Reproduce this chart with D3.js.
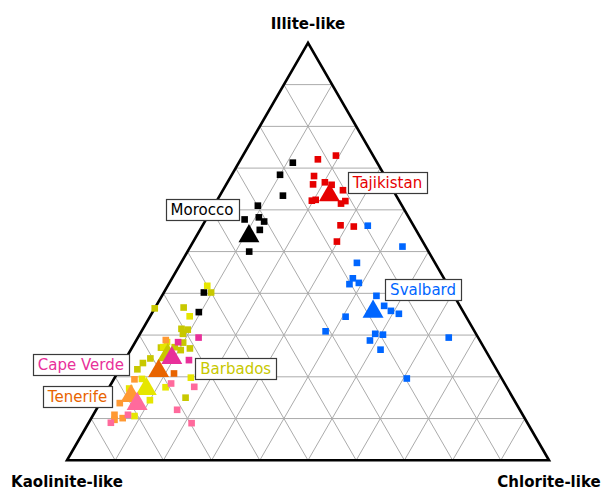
<!DOCTYPE html>
<html>
<head>
<meta charset="utf-8">
<script src="https://cdn.jsdelivr.net/npm/d3@7"></script>
<style>
  html, body { margin: 0; padding: 0; background: #fff; }
  svg { display: block; }
</style>
</head>
<body>
<svg id="chart" width="601" height="490"></svg>
<script>
// Clay mineral composition, % of [illite, kaolinite, chlorite]
const axisTitles = ["Illite-like", "Kaolinite-like", "Chlorite-like"];
const gridSteps = [10, 20, 30, 40, 50, 60, 70, 80, 90];

const groupNames  = ["Morocco", "Tajikistan", "Svalbard", "Barbados", "Cape Verde", "Tenerife", "Sample A", "Sample B", "Sample C"];
const groupColors = ["#000000", "#e60000", "#0066ff", "#c8c800", "#e8309a", "#e86400", "#e6e600", "#ff9933", "#ff6a9c"];
const groupLabeled = [true, true, true, true, true, true, false, false, false];

const moroccoSamples = [
  [71.3, 17.5, 11.2], [68.4, 21.6, 10.0], [63.4, 23.5, 13.1], [61.0, 29.9, 9.1],
  [57.7, 34.3, 8.0], [58.2, 31.1, 10.7], [57.2, 30.5, 12.3], [55.2, 32.4, 12.4],
  [50.0, 37.2, 12.8], [40.2, 51.5, 8.3], [35.5, 54.9, 9.6]
];
const tajikistanSamples = [
  [73.0, 7.7, 19.3], [72.1, 11.9, 16.0], [68.1, 14.7, 17.2], [66.1, 15.9, 18.0],
  [66.6, 13.2, 20.2], [64.7, 10.4, 24.9], [62.2, 18.1, 19.7], [62.4, 17.2, 20.4],
  [62.1, 11.2, 26.7], [61.5, 12.4, 26.1], [56.3, 15.1, 28.6], [56.0, 12.5, 31.5],
  [52.4, 17.8, 29.8], [66.0, 12.1, 21.9]
];
const svalbardSamples = [
  [56.2, 9.5, 34.3], [51.2, 4.8, 44.0], [47.3, 16.2, 36.5], [43.6, 18.9, 37.5],
  [42.2, 20.3, 37.5], [42.5, 18.2, 39.3], [39.4, 16.1, 44.5], [37.0, 15.7, 47.3],
  [35.8, 14.9, 49.3], [35.1, 13.6, 51.3], [34.4, 25.0, 40.6], [30.9, 30.9, 38.2],
  [30.3, 20.9, 48.8], [30.1, 19.4, 50.5], [28.7, 22.8, 48.5], [26.5, 21.7, 51.8],
  [19.6, 19.7, 60.7], [29.4, 6.1, 64.5]
];
const barbadosSamples = [
  [40.2, 50.0, 9.8], [36.4, 63.6, 0.0], [36.6, 57.5, 5.9], [31.5, 60.5, 8.0],
  [31.3, 59.3, 9.4], [30.3, 60.8, 8.9], [28.2, 61.8, 10.0], [27.0, 67.0, 6.0],
  [27.1, 64.1, 8.8], [26.4, 63.2, 10.4], [26.8, 61.1, 12.1], [24.4, 70.5, 5.1],
  [23.3, 72.6, 4.1], [21.8, 74.5, 3.7], [15.0, 67.9, 17.1]
];
const capeVerdeSamples = [
  [29.4, 58.0, 12.6], [28.3, 62.8, 8.9], [24.0, 62.7, 13.3]
];
const tenerifeSamples = [
  [20.8, 67.4, 11.8]
];
const sampleASamples = [
  [41.8, 50.0, 8.2], [34.5, 57.3, 8.2], [28.3, 65.1, 6.6], [27.1, 66.5, 6.4],
  [19.8, 64.4, 15.8], [17.5, 70.8, 11.7], [14.4, 75.6, 10.0], [10.6, 80.7, 8.7],
  [19.5, 74.7, 5.8], [17.2, 78.5, 4.3]
];
const sampleBSamples = [
  [28.8, 65.1, 6.1], [19.4, 76.3, 4.3], [10.9, 84.7, 4.4], [10.1, 83.4, 6.5],
  [9.7, 85.3, 5.0], [13.7, 82.2, 4.1]
];
const sampleCSamples = [
  [17.6, 64.8, 17.6], [18.4, 69.2, 12.4], [12.1, 71.1, 16.8], [8.9, 69.7, 21.4],
  [9.0, 86.4, 4.6], [10.9, 81.9, 7.2]
];
const groupSamples = [moroccoSamples, tajikistanSamples, svalbardSamples, barbadosSamples,
  capeVerdeSamples, tenerifeSamples, sampleASamples, sampleBSamples, sampleCSamples];

// Group means
const groupMeans = [
  [53.7, 35.4, 10.9], [63.5, 13.8, 22.7], [35.6, 18.7, 45.7], [25.2, 66.5, 8.3],
  [24.5, 66.0, 9.5], [21.4, 70.3, 8.3], [17.1, 75.0, 7.9], [15.4, 79.0, 5.6],
  [13.5, 78.7, 7.8]
];

// ---- layout ----
const svg = d3.select("#chart");
const left = 67, right = 549, base = 460.3;
const side = right - left;
const apexY = base - side * Math.sqrt(3) / 2;

// x position from (chlorite + illite/2), y position from illite
const xScale = d3.scaleLinear().domain([0, 100]).range([left, right]);
const yScale = d3.scaleLinear().domain([0, 100]).range([base, apexY]);
const project = ([il, ka, ch]) => [xScale(ch + il / 2), yScale(il)];

// grid
const grid = svg.append("g").attr("stroke", "#ababab").attr("stroke-width", 1).attr("fill", "none");
gridSteps.forEach(v => {
  const segs = [
    [[v, 100 - v, 0], [v, 0, 100 - v]],      // constant illite
    [[0, 100 - v, v], [100 - v, 0, v]],      // constant chlorite
    [[0, v, 100 - v], [100 - v, v, 0]]       // constant kaolinite
  ];
  segs.forEach(([a, b]) => {
    const p = project(a), q = project(b);
    grid.append("line").attr("x1", p[0]).attr("y1", p[1]).attr("x2", q[0]).attr("y2", q[1]);
  });
});

// outline
const corners = [[100, 0, 0], [0, 100, 0], [0, 0, 100]].map(project);
svg.append("path")
  .attr("d", d3.line()(corners) + "Z")
  .attr("fill", "none").attr("stroke", "#000").attr("stroke-width", 2.6)
  .attr("stroke-linejoin", "miter");

// corner titles
const titleFont = "bold 15px 'DejaVu Sans', Verdana, sans-serif";
const titlePos = [[corners[0][0], 29], [corners[1][0], 487], [corners[2][0], 487]];
axisTitles.forEach((t, i) => {
  svg.append("text").text(t)
    .attr("x", titlePos[i][0]).attr("y", titlePos[i][1])
    .attr("text-anchor", "middle")
    .style("font", titleFont).attr("fill", "#000");
});

// sample squares
const sq = d3.symbol(d3.symbolSquare).size(44);
groupSamples.forEach((arr, g) => {
  svg.append("g").selectAll("path").data(arr).join("path")
    .attr("d", sq)
    .attr("transform", d => { const p = project(d); return `translate(${p[0]},${p[1]})`; })
    .attr("fill", groupColors[g]);
});

// mean triangles
const tri = d3.symbol(d3.symbolTriangle).size(190);
groupMeans.forEach((m, g) => {
  const p = project(m);
  svg.append("path").attr("d", tri)
    .attr("transform", `translate(${p[0]},${p[1]})`)
    .attr("fill", groupColors[g]);
});

// labels (offset of box centre from the group mean, in px)
const labelOffset = {
  "Morocco": [-47, -27], "Tajikistan": [58, -13], "Svalbard": [50, -22],
  "Barbados": [68, 13], "Cape Verde": [-91, 6], "Tenerife": [-81, 26]
};
const labelColor = {
  "Morocco": "#000000", "Tajikistan": "#e60000", "Svalbard": "#0066ff",
  "Barbados": "#c8c800", "Cape Verde": "#e8309a", "Tenerife": "#e86400"
};
const labels = svg.append("g");
groupNames.forEach((name, g) => {
  if (!groupLabeled[g]) return;
  const p = project(groupMeans[g]);
  const off = labelOffset[name];
  const cx = p[0] + off[0], cy = p[1] + off[1];
  const lg = labels.append("g");
  const rect = lg.append("rect");
  const txt = lg.append("text").text(name)
    .attr("x", cx).attr("y", cy + 5.5)
    .attr("text-anchor", "middle")
    .style("font", "15px 'DejaVu Sans', Verdana, sans-serif")
    .attr("fill", labelColor[name]);
  const w = txt.node().getComputedTextLength();
  const padX = 5, h = 21;
  rect.attr("x", Math.round(cx - w / 2 - padX) + 0.5)
    .attr("y", Math.round(cy - h / 2) + 0.5)
    .attr("width", Math.round(w + 2 * padX))
    .attr("height", h)
    .attr("fill", "#fff").attr("stroke", "#3a3a3a").attr("stroke-width", 1.2);
});
</script>
</body>
</html>
